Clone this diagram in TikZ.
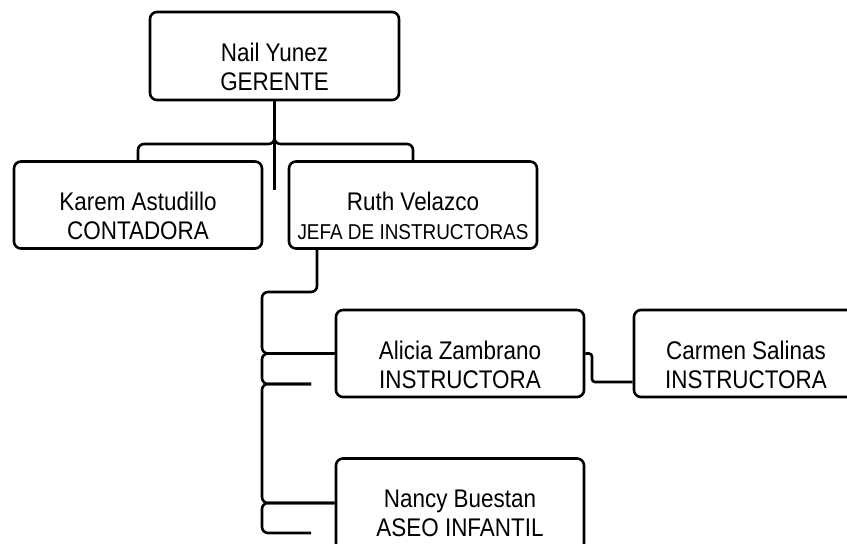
\documentclass[tikz,border=0pt]{standalone}
\usepackage{fontspec}
\setmainfont{Liberation Sans}[FakeStretch=0.88]
\usetikzlibrary{calc}

\begin{document}
\begin{tikzpicture}[x=1pt, y=-1pt,
		puesto/.style={draw, line width=2.6pt, rounded corners=7pt, minimum width=248pt, minimum height=87pt, inner sep=0pt},
		nombre/.style={align=center, font=\fontsize{25.5}{29}\selectfont, inner sep=0pt},
		linea/.style={line width=2.6pt, rounded corners=6pt}]
			%%%%% START %%%%%
			
			\clip (0, 0) rectangle (847, 544);
			
			\node[puesto, minimum width=249pt, minimum height=88pt] (nail) at (274.5, 56) {};
			\node[nombre] (nailtxt) at ([yshift=-11pt]nail.center) {Nail Yunez\\GERENTE};
			
			\node[puesto] (karem) at (138, 205) {};
			\node[nombre] (karemtxt) at ([yshift=-11pt]karem.center) {Karem Astudillo\\CONTADORA};
			\node[puesto] (ruth) at (413, 205) {};
			\node[nombre] (ruthtxt) at ([yshift=-11pt]ruth.center) {Ruth Velazco\\{\fontsize{21.5}{25}\selectfont JEFA DE INSTRUCTORAS}};
			
			\node[puesto] (alicia) at (460, 353.5) {};
			\node[nombre] (aliciatxt) at ([yshift=-11pt]alicia.center) {Alicia Zambrano\\INSTRUCTORA};
			\node[puesto, minimum width=224pt] (carmen) at (746, 353.5) {};
			\node[nombre] (carmentxt) at ([yshift=-11pt]carmen.center) {Carmen Salinas\\INSTRUCTORA};
			\node[puesto, minimum height=95pt] (nancy) at (460, 506) {};
			\node[nombre] (nancytxt) at (460, 513) {Nancy Buestan\\ASEO INFANTIL};
			
			% gerente
			\coordinate (barra) at (274.5, 144);
			\coordinate (cola) at (274.5, 190);
			\draw[linea] (nail.south) -- (barra) -| (karem.north);
			\draw[linea] (nail.south) -- (barra) -| (ruth.north);
			\draw[line width=2.6pt] (nail.south) -- (cola);
			
			% jefa
			\coordinate (bajada) at (317, 292);
			\coordinate (tronco) at (262, 292);
			\coordinate (cabo1) at (311, 384);
			\coordinate (cabo2) at (311, 533);
			\coordinate (nancyin) at (336, 503);
			\draw[linea] (ruth.south -| bajada) -- (bajada) -- (tronco) |- (alicia.west);
			\draw[linea] (alicia.west) -| (tronco |- cabo1) -- (cabo1);
			\draw[linea] (cabo1) -| (tronco |- nancyin) -- (nancy.west |- nancyin);
			\draw[linea] (nancy.west |- nancyin) -| (tronco |- cabo2) -- (cabo2);
			
			\coordinate (paso) at (592, 382);
			\draw[linea, rounded corners=3pt] (alicia.east) -| (paso) -- (paso -| carmen.west);
			
			%%%%% END %%%%%
		\end{tikzpicture}
\end{document}
